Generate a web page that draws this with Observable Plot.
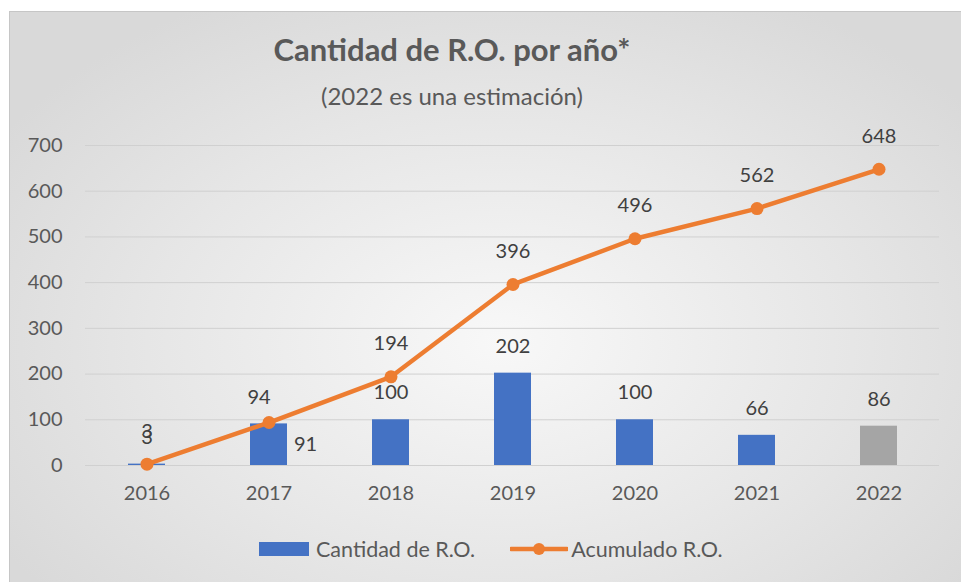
<!DOCTYPE html>
<html>
<head>
<meta charset="utf-8">
<script src="https://cdn.jsdelivr.net/npm/d3@7"></script>
<script src="https://cdn.jsdelivr.net/npm/@observablehq/plot@0.6"></script>
<style>
  html, body { margin: 0; padding: 0; background: #fff; overflow: hidden; }
  #page { position: relative; width: 961px; height: 582px; overflow: hidden; font-family: Lato, "Open Sans", sans-serif; }
  #box { position: absolute; left: 9px; top: 11px; width: 980px; height: 600px; border: 1.5px solid #c6c6c6;
         background: radial-gradient(ellipse 60% 65% at 50% 55%, #f8f8f8 0%, #e6e6e6 60%, #d9d9d9 100%); }
  #title { position: absolute; left: 0; width: 904px; top: 30px; text-align: center; font-size: 31px; font-weight: bold; color: #595959; }
  #subtitle { position: absolute; left: 0; width: 904px; top: 81px; text-align: center; font-size: 24px; color: #595959; }
  #chart { position: absolute; left: 0; top: 115px; }
  #legend { position: absolute; top: 536px; left: 259px; display: flex; align-items: center; font-size: 21.5px; color: #595959; }
  .sw { display: inline-block; }
</style>
</head>
<body>
<div id="page">
  <div id="box"></div>
  <div id="title">Cantidad de R.O. por año*</div>
  <div id="subtitle">(2022 es una estimación)</div>
  <div id="chart"></div>
  <div id="legend">
    <span class="sw" style="width:50px;height:14px;background:#4472C4;margin-right:7px;"></span>
    <span>Cantidad de R.O.</span>
    <svg width="58" height="16" style="margin-left:35px;margin-right:3px;">
      <line x1="1" y1="8" x2="57" y2="8" stroke="#ED7D31" stroke-width="4.5" stroke-linecap="round"></line>
      <circle cx="29" cy="8" r="6" fill="#ED7D31"></circle>
    </svg>
    <span>Acumulado R.O.</span>
  </div>
</div>
<script>
const years = ["2016", "2017", "2018", "2019", "2020", "2021", "2022"];
const cantidad = [3, 91, 100, 202, 100, 66, 86];
const acumulado = [3, 94, 194, 396, 496, 562, 648];
const estimatedYear = "2022";
const yTicks = [0, 100, 200, 300, 400, 500, 600, 700];

const rows = years.map((y, i) => ({year: y, cantidad: cantidad[i], acumulado: acumulado[i]}));

const chart = Plot.plot({
  width: 961,
  height: 405,
  marginLeft: 85,
  marginRight: 22,
  marginTop: 30,
  marginBottom: 55,
  style: {background: "transparent", fontFamily: "Lato, 'Open Sans', sans-serif", fontSize: "20px", color: "#595959"},
  x: {domain: years, paddingInner: 0.7, paddingOuter: 0.35, label: null, tickSize: 0, tickPadding: 20},
  y: {domain: [0, 700], ticks: yTicks, label: null, tickSize: 0, tickPadding: 23},
  marks: [
    Plot.gridY(yTicks, {stroke: "#d0d0d0", strokeOpacity: 1, strokeWidth: 1}),
    Plot.barY(rows, {x: "year", y: "cantidad", fill: d => d.year === estimatedYear ? "#A5A5A5" : "#4472C4"}),
    Plot.text(rows.filter(d => d.year !== "2017"), {x: "year", y: "cantidad", text: d => String(d.cantidad), dy: -27, fill: "#404040", fontSize: 20}),
    Plot.text(rows.filter(d => d.year === "2017"), {x: "year", y: d => d.cantidad / 2, text: d => String(d.cantidad), dx: 25, textAnchor: "start", fill: "#404040", fontSize: 20}),
    Plot.line(rows, {x: "year", y: "acumulado", stroke: "#ED7D31", strokeWidth: 4.5, curve: "linear"}),
    Plot.dot(rows, {x: "year", y: "acumulado", r: 6.5, fill: "#ED7D31"}),
    Plot.text(rows.filter(d => d.year !== "2017"), {x: "year", y: "acumulado", text: d => String(d.acumulado), dy: -33, fill: "#404040", fontSize: 20}),
    Plot.text(rows.filter(d => d.year === "2017"), {x: "year", y: "acumulado", text: d => String(d.acumulado), dy: -25, dx: -10, fill: "#404040", fontSize: 20})
  ]
});
document.getElementById("chart").appendChild(chart);
</script>
</body>
</html>
